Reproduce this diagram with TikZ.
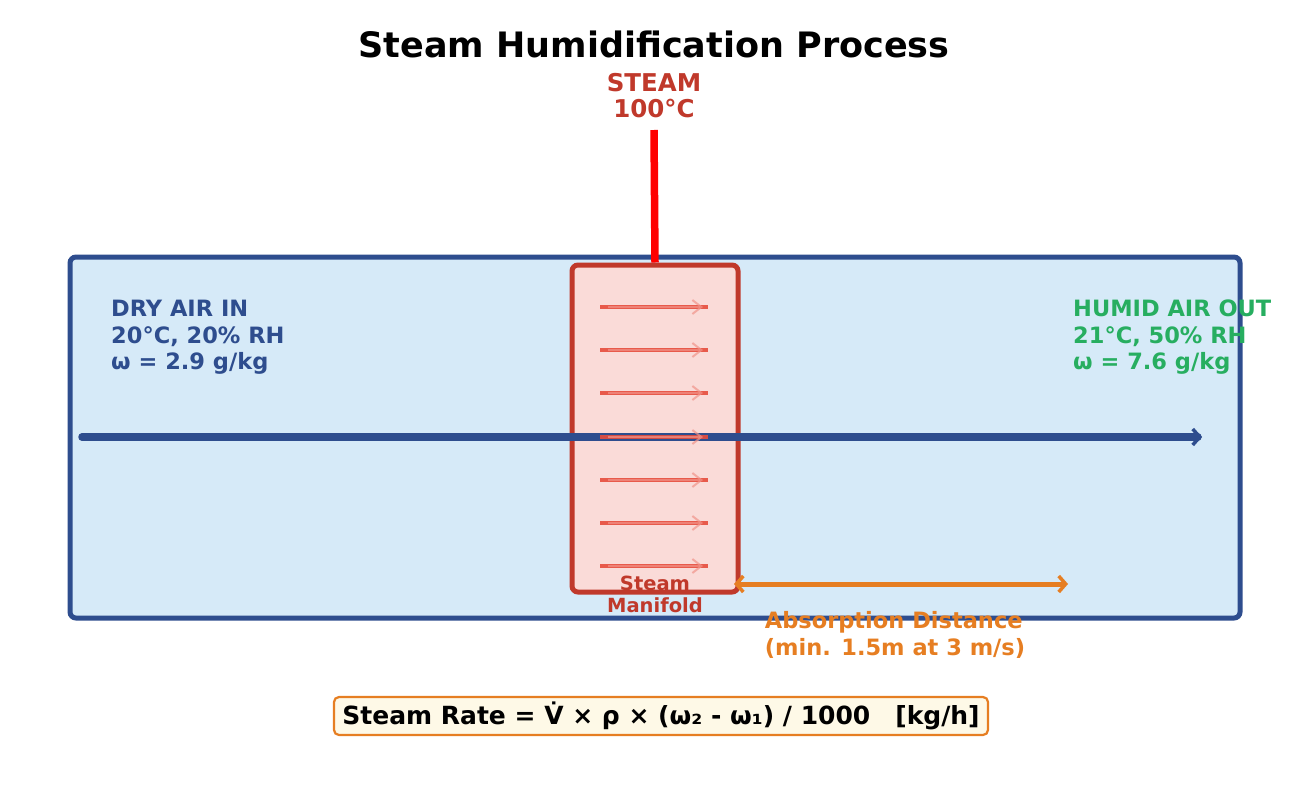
\documentclass[tikz,border=0pt]{standalone}
\usepackage{fontspec}
\setmainfont{DejaVu Sans}
\usetikzlibrary{arrows.meta}
\definecolor{duct}{HTML}{2E4D8E}
\definecolor{ductfill}{HTML}{D6EAF8}
\definecolor{sred}{HTML}{C0392B}
\definecolor{jet}{HTML}{E74C3C}
\definecolor{mfill}{HTML}{FADBD8}
\definecolor{org}{HTML}{E67E22}
\definecolor{green}{HTML}{27AE60}
\definecolor{fbox}{HTML}{FEF9E7}
\begin{document}
\begin{tikzpicture}[x=1pt,y=-1pt,
  lbl/.style={font=\bfseries\fontsize{22.5}{26.5}\selectfont,align=left,anchor=north west,inner sep=0},
  jetline/.style={jet,line width=3.5pt,opacity=0.9},
  jetarrow/.style={jet!60,line width=2pt,opacity=0.7,-{Straight Barb[length=9pt,width=14pt]}},
  bigbarb/.tip={Straight Barb[length=7pt,width=16pt,line width=3.5pt]}]
\useasboundingbox (0,0) rectangle (1309,811);
\node (title) at (654,44) {\bfseries\fontsize{35}{40}\selectfont Steam Humidification Process};
\node[sred,align=center,font=\bfseries\fontsize{24.5}{26}\selectfont] (steam) at (654,96) {STEAM\\100°C};
\draw[duct,fill=ductfill,line width=5pt,rounded corners=6pt] (70,257) rectangle (1240,618);
\node[draw=sred,fill=mfill,line width=5pt,rounded corners=6pt,minimum width=166pt,minimum height=327pt,inner sep=0] (man) at (655,428.5) {};
\coordinate (st) at (654,130);
\draw[red,line width=7.5pt] (st) -- (man.north);
\coordinate (a1) at (82,437); \coordinate (a2) at (1202,437);
\draw[duct,line width=7.5pt,-bigbarb,line cap=round] (a1) -- (a2);
\foreach \y in {307,350,393,437,480,523,566}{
  \draw[jetline] (600,\y) -- (708,\y);
  \draw[jetarrow] (608,\y) -- (703,\y);
}
\node[lbl,duct] (dry) at (111,300) {DRY AIR IN\\20°C, 20\% RH\\ω = 2.9 g/kg};
\node[lbl,green] (hum) at (1073,300) {HUMID AIR OUT\\21°C, 50\% RH\\ω = 7.6 g/kg};
\node[sred,align=center,font=\bfseries\fontsize{19.5}{22}\selectfont] (ml) at (655,594) {Steam\\Manifold};
\coordinate (d1) at (734,584); \coordinate (d2) at (1068,584);
\draw[org,line width=5pt,bigbarb-bigbarb] (d1) -- (d2);
\node[org,align=left,font=\bfseries\fontsize{22.5}{26.5}\selectfont] (abs) at (895,635) {Absorption Distance\\(min. 1.5m at 3 m/s)};
\node[draw=org,fill=fbox,line width=2.2pt,rounded corners=5pt,minimum width=654pt,minimum height=38pt,font=\bfseries\fontsize{25}{28}\selectfont] (eq) at (661,716) {Steam Rate = V̇ × ρ × (ω₂ - ω₁) / 1000\quad [kg/h]};
\end{tikzpicture}
\end{document}
